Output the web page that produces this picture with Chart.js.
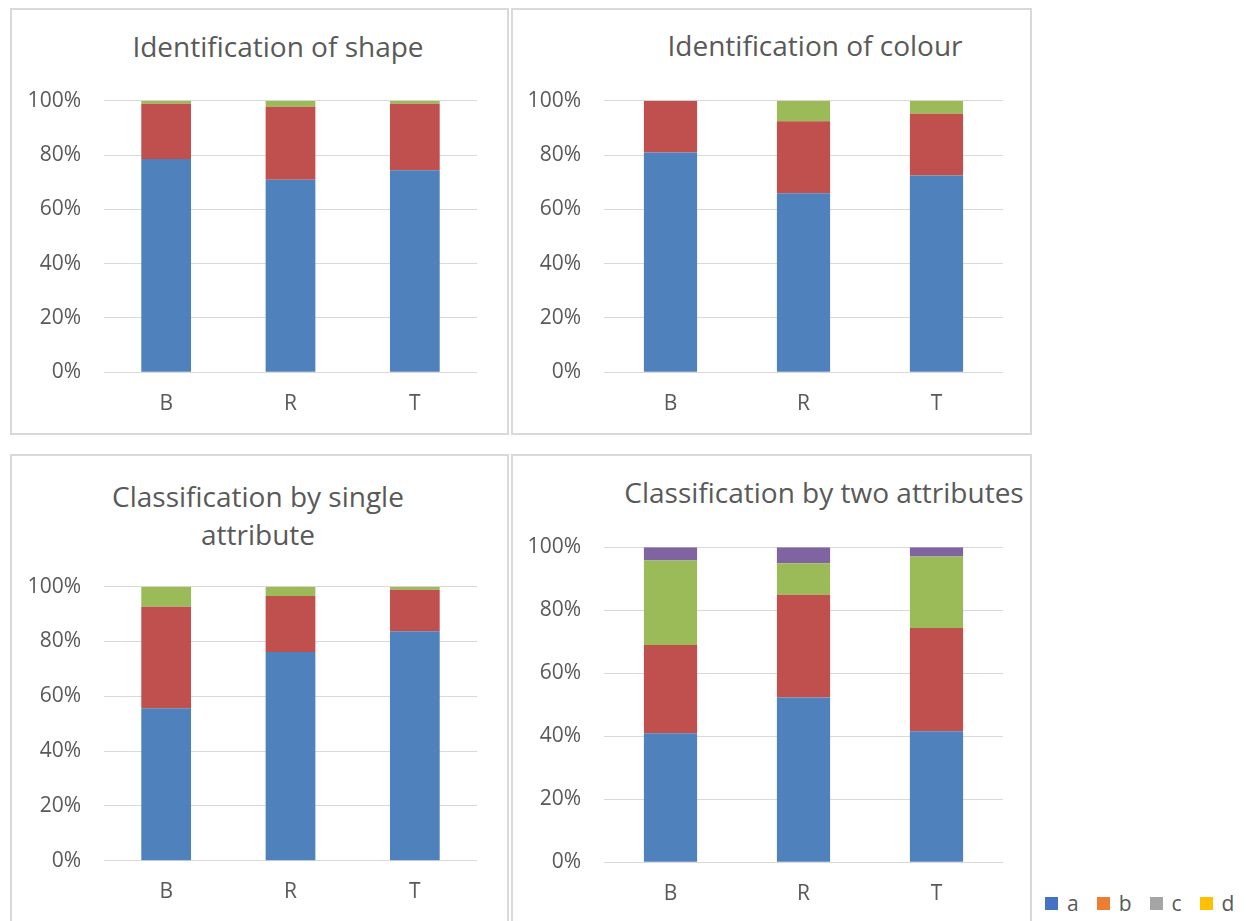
<!DOCTYPE html>
<html>
<head>
<meta charset="utf-8">
<script src="https://cdn.jsdelivr.net/npm/chart.js"></script>
<style>
html, body { margin: 0; padding: 0; background: #fff; }
body { width: 1248px; height: 921px; position: relative; overflow: hidden; font-family: "Open Sans", sans-serif; color: #595959; }
.panel { position: absolute; border: 2px solid #d9d9d9; box-sizing: border-box; }
.title { position: absolute; width: 600px; text-align: center; font-size: 28px; line-height: 28px; white-space: nowrap; }
canvas { position: absolute; }
#key { position: absolute; left: 1045px; top: 891px; height: 24px; display: flex; align-items: center; font-size: 21px; line-height: 24px; }
#key span.sw { display: inline-block; width: 13px; height: 13px; margin-right: 9px; }
#key span.lb { margin-right: 18px; }
</style>
</head>
<body>

<div class="panel" style="left:10px;top:8px;width:499px;height:427px"></div>
<div class="panel" style="left:511px;top:8px;width:521px;height:427px"></div>
<div class="panel" style="left:10px;top:454px;width:499px;height:480px"></div>
<div class="panel" style="left:511px;top:454px;width:521px;height:480px"></div>

<div class="title" style="left:-22px;top:32px">Identification of shape</div>
<div class="title" style="left:515px;top:31px">Identification of colour</div>
<div class="title" style="left:-42px;top:477px;line-height:38px">Classification by single<br>attribute</div>
<div class="title" style="left:524px;top:478px">Classification by two attributes</div>

<canvas id="shapeChart"></canvas>
<canvas id="colourChart"></canvas>
<canvas id="singleChart"></canvas>
<canvas id="twoChart"></canvas>

<div id="key"></div>

<script>
// groups and answer types
const categories = ["B", "R", "T"];
const seriesNames = ["a", "b", "c", "d"];
const yTicks = [0, 20, 40, 60, 80, 100];

// identification of shape (% per group)
const shapeA = [78.5, 70.9, 74.4];
const shapeB = [20.4, 26.9, 24.5];
const shapeC = [1.1, 2.2, 1.1];

// identification of colour
const colourA = [80.9, 65.9, 72.5];
const colourB = [19.1, 26.5, 22.7];
const colourC = [0, 7.6, 4.8];

// classification by single attribute
const singleA = [55.6, 76.2, 83.7];
const singleB = [37.1, 20.4, 15.2];
const singleC = [7.3, 3.4, 1.1];

// classification by two attributes
const twoA = [41.0, 52.3, 41.6];
const twoB = [28.0, 32.6, 32.8];
const twoC = [26.8, 10.0, 22.7];
const twoD = [4.2, 5.1, 2.9];

const barColors = ["#4f81bd", "#c0504d", "#9bbb59", "#8064a2"];
const keyColors = ["#4472c4", "#ed7d31", "#a5a5a5", "#ffc000"];
const textColor = "#595959";
const tickFont = { family: "Open Sans", size: 21 };

// box = canvas rect on the page, plot = where the bars area should sit
// (top padding must stay above ~36px, the y ticks reserve that much)
function makeChart(id, box, plot, series) {
    const cv = document.getElementById(id);
    cv.width = box.r - box.l;
    cv.height = box.b - box.t;
    cv.style.left = box.l + "px";
    cv.style.top = box.t + "px";

    return new Chart(cv, {
        type: "bar",
        data: {
            labels: categories,
            datasets: series.map((d, i) => ({
                label: seriesNames[i],
                data: d,
                backgroundColor: barColors[i],
                borderWidth: 0,
                barPercentage: 0.4,
                categoryPercentage: 1
            }))
        },
        options: {
            responsive: false,
            animation: false,
            layout: { padding: { top: plot.t - box.t, right: box.r - plot.r, left: 0, bottom: 0 } },
            plugins: { legend: { display: false }, tooltip: { enabled: false } },
            scales: {
                x: {
                    stacked: true,
                    border: { display: false },
                    grid: { display: false, drawTicks: false },
                    ticks: { color: textColor, font: tickFont, padding: 19 },
                    afterFit: s => { s.height = box.b - plot.b; }
                },
                y: {
                    stacked: true,
                    min: 0,
                    max: 100,
                    border: { display: false },
                    grid: { color: "#d9d9d9", lineWidth: 1, drawTicks: false },
                    ticks: { color: textColor, font: tickFont, padding: 23, callback: v => v + "%" },
                    afterBuildTicks: s => { s.ticks = yTicks.map(v => ({ value: v })); },
                    afterFit: s => { s.width = plot.l - box.l; }
                }
            }
        }
    });
}

makeChart("shapeChart",
    { l: 12, t: 50, r: 507, b: 432 },
    { l: 104, t: 100.7, r: 477, b: 372.3 },
    [shapeA, shapeB, shapeC]);

makeChart("colourChart",
    { l: 513, t: 50, r: 1029, b: 432 },
    { l: 604, t: 100.7, r: 1003, b: 372.3 },
    [colourA, colourB, colourC]);

makeChart("singleChart",
    { l: 12, t: 536, r: 507, b: 921 },
    { l: 104, t: 586.7, r: 477, b: 860.7 },
    [singleA, singleB, singleC]);

makeChart("twoChart",
    { l: 513, t: 500, r: 1029, b: 921 },
    { l: 604, t: 547.3, r: 1003, b: 862.3 },
    [twoA, twoB, twoC, twoD]);

// legend row under the last panel
const key = document.getElementById("key");
seriesNames.forEach((n, i) => {
    const sw = document.createElement("span");
    sw.className = "sw";
    sw.style.background = keyColors[i];
    const lb = document.createElement("span");
    lb.className = "lb";
    lb.textContent = n;
    key.appendChild(sw);
    key.appendChild(lb);
});
</script>
</body>
</html>
